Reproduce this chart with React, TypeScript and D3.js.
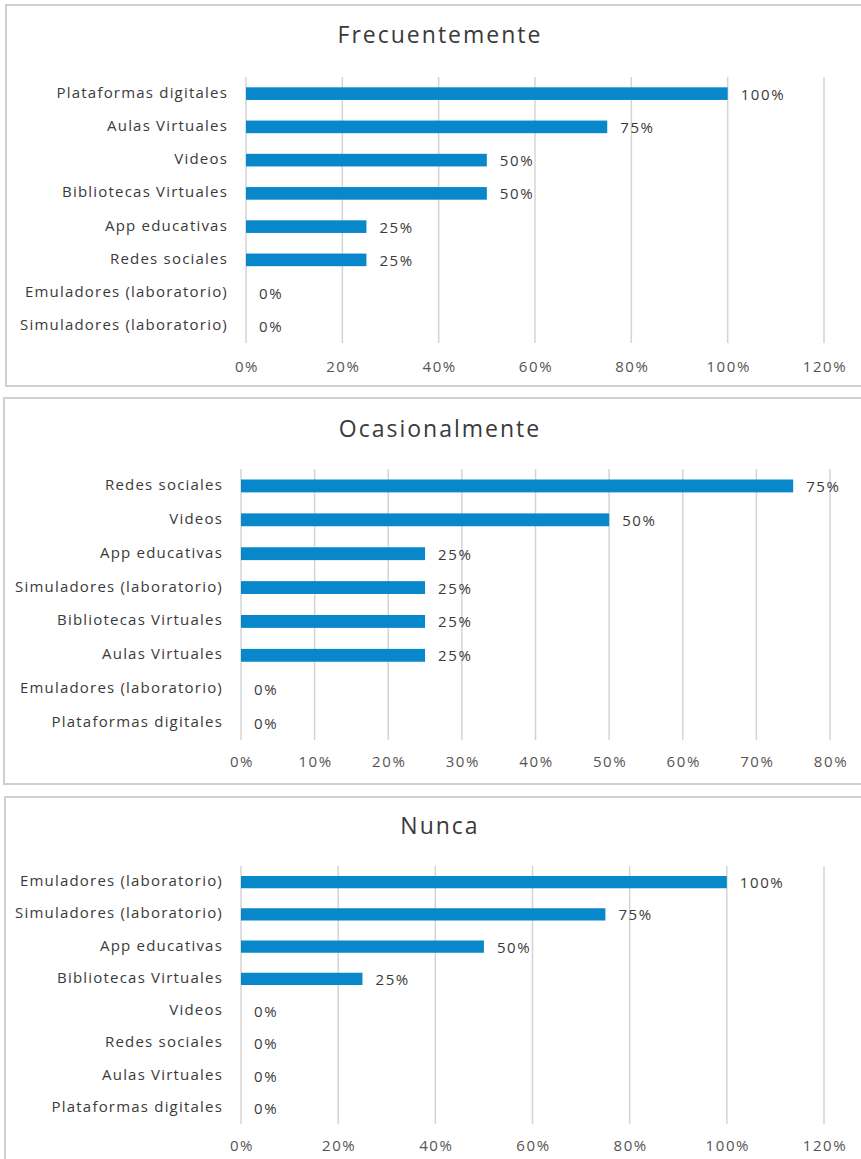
import React from "react";
import * as d3 from "d3";

const cats1 = ["Plataformas digitales", "Aulas Virtuales", "Videos", "Bibliotecas Virtuales", "App educativas", "Redes sociales", "Emuladores (laboratorio)", "Simuladores (laboratorio)"];
const vals1 = [1, 0.75, 0.5, 0.5, 0.25, 0.25, 0, 0];
const ticks1 = [0, 0.2, 0.4, 0.6, 0.8, 1.0, 1.2];

const cats2 = ["Redes sociales", "Videos", "App educativas", "Simuladores (laboratorio)", "Bibliotecas Virtuales", "Aulas Virtuales", "Emuladores (laboratorio)", "Plataformas digitales"];
const vals2 = [0.75, 0.5, 0.25, 0.25, 0.25, 0.25, 0, 0];
const ticks2 = [0, 0.1, 0.2, 0.3, 0.4, 0.5, 0.6, 0.7, 0.8];

const cats3 = ["Emuladores (laboratorio)", "Simuladores (laboratorio)", "App educativas", "Bibliotecas Virtuales", "Videos", "Redes sociales", "Aulas Virtuales", "Plataformas digitales"];
const vals3 = [1, 0.75, 0.5, 0.25, 0, 0, 0, 0];
const ticks3 = [0, 0.2, 0.4, 0.6, 0.8, 1.0, 1.2];

const titles = ["Frecuentemente", "Ocasionalmente", "Nunca"];

const FONT = "'Open Sans', 'DejaVu Sans', sans-serif";
const BAR = "#0888CB";
const GRID = "#d4d4d4";
const TXT = "#3a3a3a";
const TICK = "#555555";

type PanelProps = {
  title: string;
  cats: string[];
  vals: number[];
  ticks: number[];
  box: { x: number; y: number; w: number; h: number };
  x0: number;
  x1: number;
  y0: number;
  y1: number;
  titleY: number;
  tickY: number;
};

function Panel({ title, cats, vals, ticks, box, x0, x1, y0, y1, titleY, tickY }: PanelProps) {
  const xs = d3.scaleLinear().domain([0, ticks[ticks.length - 1]]).range([x0, x1]);
  const ys = d3.scaleBand<string>().domain(cats).range([y0, y1]).paddingInner(0.62).paddingOuter(0.31);
  const fmt = d3.format(".0%");
  return (
    <g>
      <rect x={box.x} y={box.y} width={box.w} height={box.h} fill="#fff" stroke="#cfcfcf" strokeWidth={2} />
      <text x={440} y={titleY} textAnchor="middle" dominantBaseline="middle" fontFamily={FONT} fontSize={23} letterSpacing={2} fill={TXT}>
        {title}
      </text>
      {ticks.map((t) => (
        <line key={"g" + t} x1={xs(t)} x2={xs(t)} y1={y0} y2={y1} stroke={GRID} strokeWidth={1.5} />
      ))}
      {ticks.map((t) => (
        <text key={"t" + t} x={xs(t) + 1} y={tickY} textAnchor="middle" dominantBaseline="middle" fontFamily={FONT} fontSize={15} letterSpacing={1.6} fill={TICK}>
          {fmt(t)}
        </text>
      ))}
      {cats.map((c, i) => {
        const yb = ys(c)!;
        const bw = ys.bandwidth();
        const cy = yb + bw / 2;
        return (
          <g key={c}>
            {vals[i] > 0 && <rect x={xs(0)} y={yb} width={xs(vals[i]) - xs(0)} height={bw} fill={BAR} />}
            <text x={x0 - 18} y={cy} textAnchor="end" dominantBaseline="middle" fontFamily={FONT} fontSize={15} letterSpacing={1.2} fill={TXT}>
              {c}
            </text>
            <text x={xs(vals[i]) + 13} y={cy + 2} dominantBaseline="middle" fontFamily={FONT} fontSize={15} letterSpacing={1.6} fill={TXT}>
              {fmt(vals[i])}
            </text>
          </g>
        );
      })}
    </g>
  );
}

export default function App() {
  return (
    <svg width={861} height={1159} style={{ position: "absolute", left: 0, top: 0, background: "#fff" }}>
      <rect x={0} y={0} width={861} height={1159} fill="#fff" />
      <Panel title={titles[0]} cats={cats1} vals={vals1} ticks={ticks1}
        box={{ x: 6, y: 5, w: 870, h: 381 }} x0={246} x1={824} y0={77} y1={343} titleY={37} tickY={368} />
      <Panel title={titles[1]} cats={cats2} vals={vals2} ticks={ticks2}
        box={{ x: 4, y: 398, w: 870, h: 386 }} x0={241} x1={830} y0={469} y1={740} titleY={431} tickY={763} />
      <Panel title={titles[2]} cats={cats3} vals={vals3} ticks={ticks3}
        box={{ x: 5, y: 797, w: 870, h: 400 }} x0={241} x1={824} y0={866} y1={1124} titleY={828} tickY={1147} />
    </svg>
  );
}
